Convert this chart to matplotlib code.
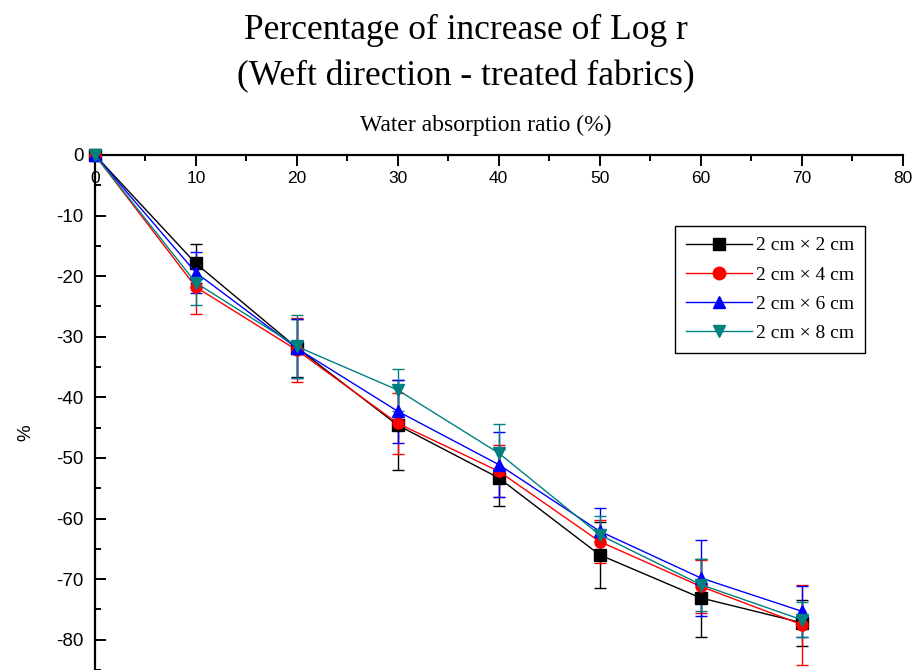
import numpy as np
import matplotlib.pyplot as plt
from matplotlib.lines import Line2D
from matplotlib.ticker import MultipleLocator

# water absorption ratio (%)
x = [0, 10, 20, 30, 40, 50, 60, 70]

# percentage of increase of log r, weft direction, treated fabrics
y_2x2 = [0, -17.9, -31.8, -44.6, -53.3, -66.0, -73.1, -77.2]
e_2x2 = [0, 3.2, 4.8, 7.4, 4.7, 5.4, 6.4, 3.8]
y_2x4 = [0, -21.8, -32.2, -44.3, -52.2, -63.8, -71.2, -77.5]
e_2x4 = [0, 4.4, 5.3, 5.0, 4.3, 3.6, 4.4, 6.6]
y_2x6 = [0, -19.4, -31.9, -42.3, -51.1, -62.1, -69.8, -75.3]
e_2x6 = [0, 3.4, 4.9, 5.2, 5.4, 3.9, 6.3, 4.2]
y_2x8 = [0, -21.1, -31.6, -38.8, -49.2, -62.7, -70.9, -76.7]
e_2x8 = [0, 3.6, 5.2, 3.5, 4.8, 3.1, 4.3, 2.9]

series = [
    ("2 cm \u00d7 2 cm", y_2x2, e_2x2, "black", "s"),
    ("2 cm \u00d7 4 cm", y_2x4, e_2x4, "red", "o"),
    ("2 cm \u00d7 6 cm", y_2x6, e_2x6, "blue", "^"),
    ("2 cm \u00d7 8 cm", y_2x8, e_2x8, "#008080", "v"),
]

plt.rcParams["font.family"] = ["Liberation Sans", "DejaVu Sans"]
plt.rcParams["axes.unicode_minus"] = False

fig = plt.figure(figsize=(9.21, 6.7), dpi=100)
ax = fig.add_axes([0.103, 0.0, 0.877, 0.7687])

handles = []
for label, y, e, c, m in series:
    ax.errorbar(x, y, yerr=e, color=c, marker=m, markersize=8, lw=1,
                elinewidth=1, capsize=4, capthick=1,
                clip_on=False, zorder=3)
    handles.append(Line2D([], [], color=c, marker=m, markersize=9, lw=1,
                          label=label))

ax.set_xlim(0, 80)
ax.set_ylim(-85, 0)
ax.spines["bottom"].set_position(("data", 0))
ax.spines["top"].set_visible(False)
ax.spines["right"].set_visible(False)
for s in ("left", "bottom"):
    ax.spines[s].set_linewidth(1.6)

ax.xaxis.set_major_locator(MultipleLocator(10))
ax.xaxis.set_minor_locator(MultipleLocator(5))
ax.yaxis.set_major_locator(MultipleLocator(10))
ax.yaxis.set_minor_locator(MultipleLocator(5))
ax.tick_params(axis="x", which="both", direction="out", width=1.4, labelsize=12.5)
ax.tick_params(axis="y", which="both", direction="in", width=1.4,
               labelsize=13.5, pad=8)
ax.tick_params(which="major", length=8)
ax.tick_params(which="minor", length=4)
ax.set_yticks(np.arange(-80, 1, 10))

ax.set_ylabel("%", fontsize=13.5)
ax.yaxis.set_label_coords(-0.075, 0.46)

fig.text(0.527, 0.813, "Water absorption ratio (%)", ha="center", va="center",
         fontsize=17, family="Liberation Serif")
fig.text(0.506, 0.955, "Percentage of increase of Log r", ha="center",
         va="center", fontsize=25.5, family="Liberation Serif")
fig.text(0.506, 0.885, "(Weft direction - treated fabrics)", ha="center",
         va="center", fontsize=25.5, family="Liberation Serif")

leg = ax.legend(handles=handles, loc="upper right",
                bbox_to_anchor=(0.953, 0.862),
                prop={"family": "Liberation Serif", "size": 14},
                fancybox=False, edgecolor="black", framealpha=1,
                handlelength=3.4, borderpad=0.55, labelspacing=0.6,
                handletextpad=0.2, borderaxespad=0)
leg.get_frame().set_linewidth(1)

fig.savefig("out.png", dpi=100)
